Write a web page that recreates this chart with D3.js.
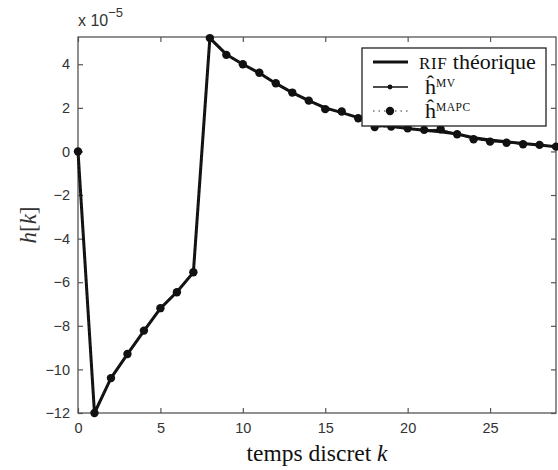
<!DOCTYPE html>
<html><head><meta charset="utf-8">
<script src="https://cdn.jsdelivr.net/npm/d3@7"></script>
<style>body{margin:0;background:#fff}svg{display:block}</style>
</head><body>
<script>
const kValues = d3.range(0, 30);
const theory = [0, -12, -10.4, -9.3, -8.23, -7.2, -6.45, -5.55, 5.2, 4.45, 4.0, 3.6, 3.12, 2.7, 2.33, 2.0, 1.78, 1.55, 1.3, 1.15, 1.05, 0.97, 0.9, 0.8, 0.63, 0.52, 0.44, 0.36, 0.29, 0.22];
const hMV   = [0.02, -11.98, -10.42, -9.27, -8.24, -7.2, -6.44, -5.56, 5.18, 4.45, 3.98, 3.6, 3.14, 2.68, 2.35, 1.96, 1.8, 1.54, 1.15, 1.12, 1.05, 0.98, 1.0, 0.8, 0.58, 0.46, 0.41, 0.34, 0.29, 0.21];
const hMAPC = [0, -12, -10.4, -9.29, -8.22, -7.19, -6.46, -5.54, 5.2, 4.43, 4.0, 3.61, 3.13, 2.7, 2.33, 1.94, 1.83, 1.52, 1.12, 1.14, 1.06, 0.99, 1.02, 0.79, 0.56, 0.45, 0.4, 0.33, 0.3, 0.22];
const xTicks = [0, 5, 10, 15, 20, 25];
const yTicks = [4, 2, 0, -2, -4, -6, -8, -10, -12];
const legendLabels = ["RIF théorique", "ĥ|MV", "ĥ|MAPC"];

const W = 558, H = 470;
const L = 78, R = 556, T = 37, B = 413;
const svg = d3.select("body").append("svg").attr("width", W).attr("height", H);
const x = d3.scaleLinear().domain([0, 29]).range([L, R]);
const y = d3.scaleLinear().domain([-12, 5.25]).range([B, T]);
const frameColor = "#555";

svg.append("rect").attr("x", L).attr("y", T).attr("width", R - L).attr("height", B - T)
  .attr("fill", "none").attr("stroke", frameColor).attr("stroke-width", 1.3);

const tickFont = "'Liberation Sans', Arial, sans-serif";
const xAxis = svg.append("g").attr("transform", `translate(0,${B})`)
  .call(d3.axisBottom(x).tickValues(xTicks).tickSizeInner(-5).tickSizeOuter(0).tickPadding(10));
const xAxisTop = svg.append("g").attr("transform", `translate(0,${T})`)
  .call(d3.axisTop(x).tickValues(xTicks).tickSizeInner(-5).tickSizeOuter(0).tickFormat(""));
const yAxis = svg.append("g").attr("transform", `translate(${L},0)`)
  .call(d3.axisLeft(y).tickValues(yTicks).tickSizeInner(-5).tickSizeOuter(0).tickPadding(8)
    .tickFormat(d => d < 0 ? "\u2212" + Math.abs(d) : d));
const yAxisR = svg.append("g").attr("transform", `translate(${R},0)`)
  .call(d3.axisRight(y).tickValues(yTicks).tickSizeInner(-5).tickSizeOuter(0).tickFormat(""));
[xAxis, xAxisTop, yAxis, yAxisR].forEach(g => {
  g.select(".domain").remove();
  g.selectAll(".tick line").attr("stroke", frameColor).attr("stroke-width", 1.2);
  g.selectAll("text").attr("font-family", tickFont).attr("font-size", 14.5).attr("fill", "#333");
});

const ex = svg.append("text").attr("x", L).attr("y", 26).attr("font-family", tickFont)
  .attr("font-size", 16).attr("fill", "#333");
ex.append("tspan").text("x 10");
ex.append("tspan").attr("dy", -9).attr("font-size", 13).text("\u22125");

const line = d3.line().x((d, i) => x(kValues[i])).y(d => y(d));
svg.append("path").datum(theory).attr("d", line).attr("fill", "none")
  .attr("stroke", "#111").attr("stroke-width", 3).attr("stroke-linejoin", "round");
svg.append("path").datum(hMV).attr("d", line).attr("fill", "none")
  .attr("stroke", "#111").attr("stroke-width", 1.4);
svg.append("path").datum(hMAPC).attr("d", line).attr("fill", "none")
  .attr("stroke", "#222").attr("stroke-width", 1.2).attr("stroke-dasharray", "1.5,3");
svg.append("g").selectAll("circle").data(hMV).join("circle")
  .attr("cx", (d, i) => x(kValues[i])).attr("cy", d => y(d)).attr("r", 2.4).attr("fill", "#111");
svg.append("g").selectAll("circle").data(hMAPC).join("circle")
  .attr("cx", (d, i) => x(kValues[i])).attr("cy", d => y(d)).attr("r", 4.2).attr("fill", "#111");

const serif = "'Liberation Serif', 'Times New Roman', serif";
const xl = svg.append("text").attr("x", (L + R) / 2).attr("y", 461).attr("text-anchor", "middle")
  .attr("font-family", serif).attr("font-size", 23.5).attr("fill", "#111");
xl.append("tspan").text("temps discret ");
xl.append("tspan").attr("font-style", "italic").text("k");
const yl = svg.append("text").attr("transform", `translate(36,${(T + B) / 2}) rotate(-90)`)
  .attr("text-anchor", "middle").attr("font-family", serif).attr("font-size", 23).attr("fill", "#333");
yl.append("tspan").attr("font-style", "italic").text("h");
yl.append("tspan").text("[");
yl.append("tspan").attr("font-style", "italic").text("k");
yl.append("tspan").text("]");

const lg = svg.append("g");
lg.append("rect").attr("x", 362).attr("y", 48).attr("width", 184).attr("height", 78)
  .attr("fill", "#fff").attr("stroke", "#222").attr("stroke-width", 1.3);
const rowsY = [62, 87, 111];
const lx0 = 373, lx1 = 408, lxm = 390;
lg.append("line").attr("x1", lx0).attr("x2", lx1).attr("y1", rowsY[0]).attr("y2", rowsY[0])
  .attr("stroke", "#111").attr("stroke-width", 3);
lg.append("line").attr("x1", lx0).attr("x2", lx1).attr("y1", rowsY[1]).attr("y2", rowsY[1])
  .attr("stroke", "#111").attr("stroke-width", 1.4);
lg.append("circle").attr("cx", lxm).attr("cy", rowsY[1]).attr("r", 2.4).attr("fill", "#111");
lg.append("line").attr("x1", lx0).attr("x2", lx1).attr("y1", rowsY[2]).attr("y2", rowsY[2])
  .attr("stroke", "#333").attr("stroke-width", 1.2).attr("stroke-dasharray", "1.5,4");
lg.append("circle").attr("cx", lxm).attr("cy", rowsY[2]).attr("r", 4.2).attr("fill", "#111");

legendLabels.forEach((lab, i) => {
  const t = lg.append("text").attr("x", 419).attr("y", rowsY[i] + 7)
    .attr("font-family", serif).attr("font-size", 22).attr("fill", "#111");
  if (i === 0) {
    t.append("tspan").attr("font-size", 17).attr("letter-spacing", 0.6).text("RIF");
    t.append("tspan").text(" théorique");
  } else {
    const [base, sup] = lab.split("|");
    t.attr("x", 425);
    t.append("tspan").text(base);
    t.append("tspan").attr("dy", -7).attr("font-size", 11.5).attr("letter-spacing", 0.5).text(sup);
  }
});
</script>
</body></html>
